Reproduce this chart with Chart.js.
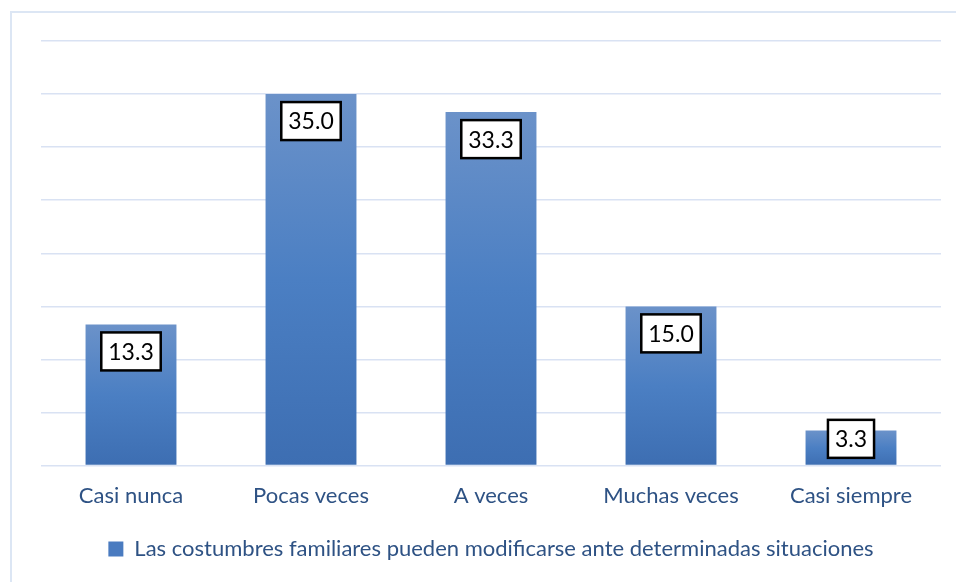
<!DOCTYPE html>
<html>
<head>
<meta charset="utf-8">
<script src="https://cdn.jsdelivr.net/npm/chart.js@4/dist/chart.umd.min.js"></script>
<style>
  html, body { margin: 0; padding: 0; background: #fff; }
  #wrap { position: relative; width: 956px; height: 582px; }
  #frame { position: absolute; left: 10px; top: 11px; right: 0; bottom: 0;
           border-left: 2px solid #dce6f4; border-top: 2px solid #dce6f4; }
  canvas { position: absolute; left: 0; top: 0; }
</style>
</head>
<body>
<div id="wrap">
  <div id="frame"></div>
  <canvas id="barChart" width="956" height="582"></canvas>
</div>
<script>
// Data
const categories = ['Casi nunca', 'Pocas veces', 'A veces', 'Muchas veces', 'Casi siempre'];
const seriesValues = [13.3, 35.0, 33.3, 15.0, 3.3];
const seriesLabel = 'Las costumbres familiares pueden modificarse ante determinadas situaciones';
const yTicks = [0, 5, 10, 15, 20, 25, 30, 35, 40];

const FONT = 'Lato, "Open Sans", sans-serif';
const TEXT_BLUE = '#2e5284';

// per bar vertical gradient, like the Excel fill
function barGradient(context) {
    const chart = context.chart;
    const y = chart.scales.y;
    if (!y || context.raw === undefined) return '#4a7bc0';
    const top = y.getPixelForValue(context.raw);
    const base = y.getPixelForValue(0);
    const g = chart.ctx.createLinearGradient(0, top, 0, base);
    g.addColorStop(0, '#6b92c9');
    g.addColorStop(0.5, '#4b7fc3');
    g.addColorStop(1, '#3d6eb2');
    return g;
}

// boxed value labels near the top of each bar
const boxLabels = {
    id: 'boxLabels',
    afterDatasetsDraw(chart) {
        const ctx = chart.ctx;
        const meta = chart.getDatasetMeta(0);
        ctx.save();
        ctx.font = '23px ' + FONT;
        ctx.textAlign = 'center';
        ctx.textBaseline = 'middle';
        meta.data.forEach((bar, i) => {
            const txt = seriesValues[i].toFixed(1);
            const w = ctx.measureText(txt).width + 14;
            const h = 38;
            let top = bar.y + 8;
            if (top + h > bar.base - 7) top = bar.base - 7 - h;
            const left = bar.x - w / 2;
            ctx.fillStyle = '#fff';
            ctx.fillRect(left, top, w, h);
            ctx.lineWidth = 2.5;
            ctx.strokeStyle = '#000';
            ctx.strokeRect(left, top, w, h);
            ctx.fillStyle = '#000';
            ctx.fillText(txt, bar.x, top + h / 2 + 1);
        });
        ctx.restore();
    }
};

new Chart(document.getElementById('barChart'), {
    type: 'bar',
    data: {
        labels: categories,
        datasets: [{
            label: seriesLabel,
            data: seriesValues,
            backgroundColor: barGradient,
            borderWidth: 0,
            categoryPercentage: 1,
            barPercentage: 0.505
        }]
    },
    options: {
        responsive: false,
        animation: false,
        layout: { padding: { left: 41, right: 15, top: 41, bottom: 12 } },
        scales: {
            x: {
                grid: { display: false },
                border: { display: false },
                ticks: { color: TEXT_BLUE, font: { family: FONT, size: 22 }, padding: 9 }
            },
            y: {
                min: 0,
                max: 40,
                afterBuildTicks: (axis) => { axis.ticks = yTicks.map(v => ({ value: v })); },
                grid: { color: '#d9e2f3', lineWidth: 1.5, drawTicks: false },
                border: { display: false },
                ticks: { display: false }
            }
        },
        plugins: {
            legend: {
                position: 'bottom',
                labels: {
                    color: TEXT_BLUE,
                    font: { family: FONT, size: 22 },
                    boxWidth: 15,
                    boxHeight: 15,
                    padding: 20,
                    generateLabels: () => [{
                        text: seriesLabel,
                        fillStyle: '#4a7bc0',
                        strokeStyle: '#4a7bc0',
                        lineWidth: 0,
                        fontColor: TEXT_BLUE,
                        datasetIndex: 0
                    }]
                }
            },
            tooltip: { enabled: false }
        }
    },
    plugins: [boxLabels]
});
</script>
</body>
</html>
